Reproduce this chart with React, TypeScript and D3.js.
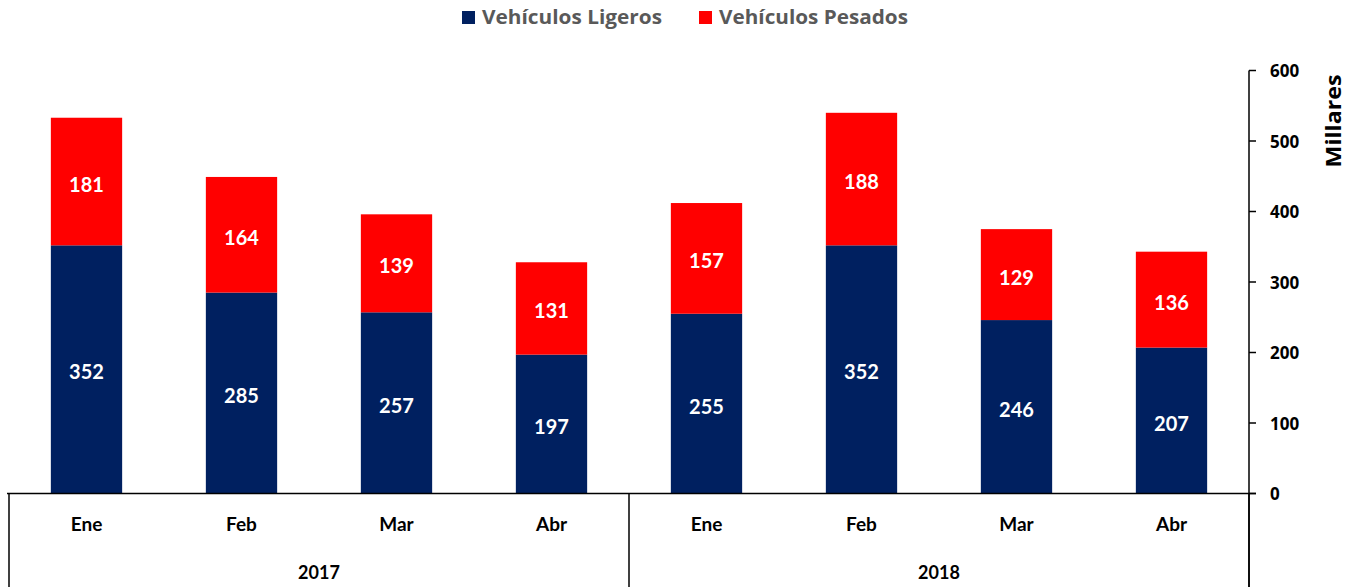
import React from "react";
import * as d3 from "d3";

const months = ["Ene", "Feb", "Mar", "Abr", "Ene", "Feb", "Mar", "Abr"];
const years = ["2017", "2018"];
const ligeros = [352, 285, 257, 197, 255, 352, 246, 207];
const pesados = [181, 164, 139, 131, 157, 188, 129, 136];
const yTicks = [0, 100, 200, 300, 400, 500, 600];
const seriesNames = ["Vehículos Ligeros", "Vehículos Pesados"];
const colors = ["#002060", "#FF0000"];

const W = 1358;
const H = 587;
const FONT = "Lato, 'Open Sans', sans-serif";
const WIDE = "'Open Sans', Lato, sans-serif";

export default function App() {
  const x = d3
    .scaleBand<number>()
    .domain(months.map((_, i) => i))
    .range([9, 1249])
    .paddingInner(0.54)
    .paddingOuter(0.27);
  const y = d3.scaleLinear().domain([0, 600]).range([493.5, 70.5]);
  const step = x.step();
  const axisX = 1249;

  const stackData = months.map((_, i) => ({ i, l: ligeros[i], p: pesados[i] }));
  const stack = d3.stack<any>().keys(["l", "p"])(stackData);

  return (
    <svg
      width={W}
      height={H}
      style={{ position: "absolute", left: 0, top: 0, background: "#fff" }}
      fontFamily={FONT}
    >
      {/* Legend */}
      {seriesNames.map((s, k) => {
        const lx = k === 0 ? 462 : 699;
        const tl = k === 0 ? 180 : 189;
        return (
          <g key={s}>
            <rect x={lx} y={11} width={13} height={13} fill={colors[k]} />
            <text
              x={lx + 20}
              y={24}
              fontSize={19}
              fontWeight={700}
              fill="#595959"
              fontFamily={WIDE}
              textLength={tl}
              lengthAdjust="spacingAndGlyphs"
            >
              {s}
            </text>
          </g>
        );
      })}

      {/* Bars */}
      {stack.map((layer, k) => (
        <g key={k}>
          {layer.map((d, i) => (
            <rect
              key={i}
              x={x(i)}
              y={y(d[1])}
              width={x.bandwidth()}
              height={y(d[0]) - y(d[1])}
              fill={colors[k]}
            />
          ))}
        </g>
      ))}
      {/* Data labels */}
      {stack.map((layer, k) => (
        <g key={"l" + k}>
          {layer.map((d, i) => (
            <text
              key={i}
              x={(x(i) as number) + x.bandwidth() / 2}
              y={(y(d[0]) + y(d[1])) / 2 + 3}
              dy="0.35em"
              textAnchor="middle"
              fontSize={20}
              fontWeight={700}
              fill="#fff"
            >
              {d[1] - d[0]}
            </text>
          ))}
        </g>
      ))}

      {/* Y axis (right) */}
      <line x1={axisX} x2={axisX} y1={y(600)} y2={H} stroke="#000" strokeWidth={1.5} />
      {yTicks.map((t) => (
        <g key={t}>
          <line x1={axisX} x2={axisX + 7} y1={y(t)} y2={y(t)} stroke="#000" strokeWidth={1.5} />
          <text x={1270} y={y(t) + 1} dy="0.35em" fontSize={17} fontWeight={700} fill="#000" fontFamily={WIDE}>
            {t}
          </text>
        </g>
      ))}
      <text
        transform={`translate(1341,121) rotate(-90)`}
        textAnchor="middle"
        fontSize={21}
        fontWeight={700}
        fill="#000"
        fontFamily={WIDE}
        textLength={93}
        lengthAdjust="spacingAndGlyphs"
      >
        Millares
      </text>

      {/* X axis */}
      <line x1={7} x2={axisX + 7} y1={y(0)} y2={y(0)} stroke="#000" strokeWidth={1.5} />
      {[0, 4, 8].map((i) => {
        const xx = 9 + i * step;
        return <line key={i} x1={xx} x2={xx} y1={y(0)} y2={H} stroke="#000" strokeWidth={1.5} />;
      })}
      {months.map((m, i) => (
        <text
          key={i}
          x={(x(i) as number) + x.bandwidth() / 2}
          y={524}
          dy="0.35em"
          textAnchor="middle"
          fontSize={19}
          fontWeight={700}
          fill="#000"
        >
          {m}
        </text>
      ))}
      {years.map((yr, j) => (
        <text
          key={yr}
          x={9 + (j * 4 + 2) * step}
          y={573}
          dy="0.35em"
          textAnchor="middle"
          fontSize={18}
          fontWeight={700}
          fill="#000"
        >
          {yr}
        </text>
      ))}
    </svg>
  );
}
